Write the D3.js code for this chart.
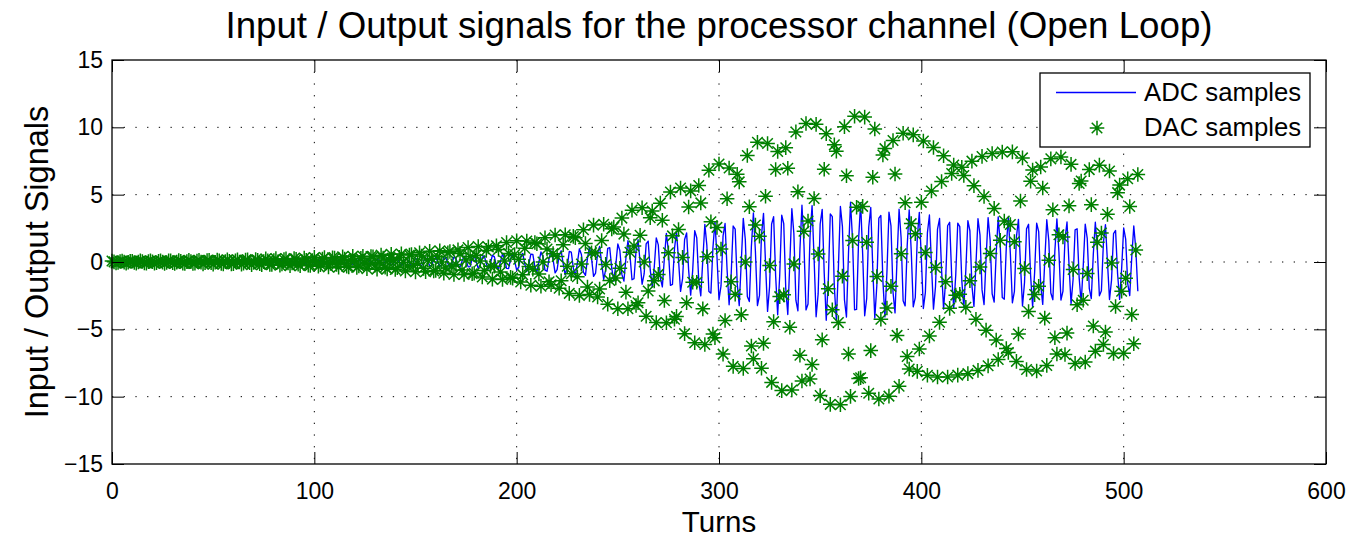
<!DOCTYPE html>
<html><head><meta charset="utf-8">
<script src="https://cdn.jsdelivr.net/npm/d3@7"></script>
<style>
html,body{margin:0;padding:0;background:#fff;overflow:hidden;}
svg{display:block;font-family:"Liberation Sans",Arial,Helvetica,sans-serif;}
</style></head><body>
<svg id="chart" width="1358" height="538"></svg>
<script>
const titleText = "Input / Output signals for the processor channel (Open Loop)";
const xLabelText = "Turns";
const yLabelText = "Input / Output Signals";
const seriesNames = ["ADC samples", "DAC samples"];
const xTicks = [0, 100, 200, 300, 400, 500, 600];
const yTicks = [-15, -10, -5, 0, 5, 10, 15];
const yTickLabels = ["\u221215", "\u221210", "\u22125", "0", "5", "10", "15"];

const adcSamples = [
-0.03,-0.02,0.02,0.03,0.00,-0.03,-0.01,0.02,0.02,-0.02,
-0.03,0.00,0.03,0.02,-0.03,-0.03,0.01,0.04,0.01,-0.04,
-0.02,0.02,0.04,0.00,-0.04,-0.02,0.03,0.03,-0.02,-0.05,
0.00,0.04,0.02,-0.03,-0.05,0.01,0.05,0.01,-0.05,-0.04,
0.03,0.05,0.00,-0.06,-0.02,0.05,0.05,-0.02,-0.07,-0.01,
0.06,0.04,-0.04,-0.06,0.01,0.07,0.02,-0.06,-0.05,0.04,
0.07,0.00,-0.07,-0.04,0.06,0.07,-0.02,-0.08,-0.02,0.08,
0.05,-0.05,-0.08,0.01,0.09,0.04,-0.08,-0.07,0.05,0.10,
0.01,-0.10,-0.06,0.07,0.10,-0.03,-0.11,-0.03,0.11,0.08,
-0.07,-0.11,0.01,0.12,0.05,-0.10,-0.10,0.05,0.14,0.02,
-0.13,-0.08,0.09,0.14,-0.03,-0.15,-0.05,0.13,0.12,-0.08,
-0.16,0.00,0.16,0.09,-0.13,-0.15,0.05,0.18,0.04,-0.17,
-0.12,0.11,0.18,-0.03,-0.21,-0.08,0.17,0.16,-0.09,-0.22,
-0.01,0.21,0.12,-0.16,-0.21,0.06,0.24,0.06,-0.23,-0.18,
0.14,0.25,-0.02,-0.27,-0.12,0.21,0.23,-0.10,-0.30,-0.04,
0.28,0.18,-0.19,-0.30,0.06,0.33,0.10,-0.27,-0.26,0.17,
0.34,0.00,-0.34,-0.18,0.28,0.32,-0.12,-0.38,-0.08,0.37,
0.26,-0.24,-0.38,0.06,0.44,0.16,-0.36,-0.34,0.21,0.47,
0.03,-0.46,-0.26,0.35,0.46,-0.13,-0.52,-0.13,0.50,0.38,
-0.30,-0.53,0.03,0.59,0.26,-0.47,-0.49,0.23,0.65,0.09,
-0.61,-0.39,0.42,0.64,-0.14,-0.71,-0.22,0.59,0.56,-0.36,
-0.74,0.00,0.74,0.39,-0.60,-0.69,0.25,0.82,0.17,-0.80,
-0.57,0.52,0.83,-0.13,-0.96,-0.36,0.78,0.74,-0.45,-1.02,
-0.06,0.98,0.56,-0.76,-0.99,0.28,1.12,0.28,-1.07,-0.82,
0.65,1.15,-0.07,-1.29,-0.57,1.01,1.06,-0.48,-1.42,-0.19,
1.34,0.85,-0.92,-1.42,0.30,1.58,0.49,-1.32,-1.24,0.82,
1.65,0.00,-1.65,-0.89,1.35,1.55,-0.57,-1.85,-0.38,1.79,
1.27,-1.17,-1.85,0.28,2.13,0.80,-1.74,-1.66,0.99,2.25,
0.14,-2.18,-1.24,1.67,2.16,-0.62,-2.46,-0.62,2.33,1.80,
-1.43,-2.51,0.16,2.79,1.23,-2.19,-2.31,1.05,2.98,0.39,
-2.80,-1.78,1.93,2.86,-0.60,-3.18,-0.98,2.67,2.44,-1.60,
-3.24,0.00,3.24,1.68,-2.56,-2.94,1.13,3.64,0.78,-3.23,
-2.48,2.00,3.61,-0.11,-3.67,-1.82,2.82,3.36,-1.05,-3.92,
-1.00,3.48,2.85,-1.98,-3.90,-0.06,3.96,2.14,-2.84,-3.62,
0.94,4.22,1.25,-3.56,-3.12,1.93,4.19,0.24,-4.07,-2.37,
2.82,3.91,-0.81,-4.33,-1.46,3.57,3.37,-1.85,-4.35,-0.43,
4.12,2.63,-2.80,-4.09,0.65,4.44,1.67,-3.55,-3.52,1.69,
4.41,0.60,-3.99,-2.70,2.58,4.05,-0.44,-4.17,-1.74,3.26,
3.45,-1.40,-4.08,-0.74,3.70,2.68,-2.23,-3.78,0.25,3.92,
1.80,-2.88,-3.26,1.17,3.87,0.86,-3.33,-2.65,1.82,3.69,
0.29,-3.45,-2.25,2.16,3.49,-0.17,-3.50,-1.84,2.45,3.23,
-0.60,-3.50,-1.41,2.69,2.95,-1.01,-3.44,-0.98,2.88,2.63,
-1.38,-3.40,-0.57,3.07,2.32,-1.74,-3.30,-0.15,3.21,1.99,
-2.07,-3.16,0.26,3.30,1.63,-2.37,-2.97,0.66,3.35,1.25,
-2.64,-2.76,1.14,3.35,0.62,-3.03,-2.19,1.86,3.17,-0.20,
-3.27,-1.51,2.46,2.80,-0.99,-3.32,-0.74,2.89,2.26,-1.71,
-3.15,0.05,3.14,1.59,-2.30,-2.80,0.83,3.20,0.76,-2.82,
-2.16,1.71,2.97,-0.23,-3.09,-1.30,2.39,2.47,-1.16,-3.05,
-0.35,2.81,1.75,-1.95,-2.71,0.60,2.95,0.88,-2.51,-2.13,
1.45,2.77,-0.03,-2.79,-1.35,2.11,2.34,-0.89,-2.78,-0.49,
2.53,1.69,-1.60,-2.49,0.36,2.67,0.96,-2.17
];

const dacSamples = [
0.07,0.01,-0.07,-0.04,0.04,0.07,-0.01,-0.08,-0.02,0.06,
0.06,-0.04,-0.08,0.00,0.08,0.04,-0.07,-0.08,0.03,0.09,
0.02,-0.09,-0.06,0.06,0.09,-0.01,-0.10,-0.04,0.08,0.08,
-0.05,-0.11,-0.01,0.10,0.06,-0.08,-0.11,0.03,0.12,0.03,
-0.11,-0.09,0.07,0.12,-0.01,-0.14,-0.06,0.11,0.12,-0.05,
-0.16,-0.02,0.15,0.09,-0.10,-0.15,0.03,0.17,0.05,-0.14,
-0.13,0.09,0.17,0.00,-0.17,-0.09,0.14,0.16,-0.06,-0.20,
-0.04,0.19,0.13,-0.12,-0.20,0.03,0.23,0.09,-0.19,-0.18,
0.11,0.25,0.02,-0.24,-0.14,0.18,0.24,-0.07,-0.27,-0.07,
0.26,0.20,-0.16,-0.28,0.02,0.30,0.13,-0.24,-0.25,0.11,
0.34,0.04,-0.32,-0.20,0.22,0.33,-0.07,-0.37,-0.11,0.31,
0.29,-0.19,-0.39,0.00,0.39,0.21,-0.31,-0.36,0.13,0.43,
0.09,-0.41,-0.29,0.27,0.43,-0.07,-0.50,-0.19,0.41,0.39,
-0.23,-0.53,-0.03,0.51,0.29,-0.39,-0.51,0.15,0.58,0.15,
-0.55,-0.43,0.34,0.60,-0.04,-0.67,-0.29,0.52,0.55,-0.25,
-0.73,-0.10,0.69,0.44,-0.47,-0.72,0.15,0.80,0.25,-0.67,
-0.63,0.41,0.83,0.00,-0.83,-0.45,0.68,0.78,-0.29,-0.93,
-0.19,0.90,0.64,-0.59,-0.93,0.14,1.07,0.40,-0.87,-0.83,
0.50,1.15,0.07,-1.11,-0.63,0.86,1.12,-0.32,-1.27,-0.32,
1.21,0.93,-0.74,-1.30,0.08,1.45,0.64,-1.14,-1.20,0.55,
1.58,0.21,-1.49,-0.94,1.02,1.56,-0.33,-1.73,-0.54,1.45,
1.36,-0.89,-1.80,0.00,1.80,0.96,-1.47,-1.69,0.62,2.01,
0.41,-1.95,-1.39,1.28,2.02,-0.31,-2.33,-0.87,1.90,1.81,
-1.09,-2.48,-0.15,2.40,1.37,-1.86,-2.41,0.69,2.74,0.69,
-2.60,-2.01,1.59,2.80,-0.18,-3.14,-1.38,2.46,2.59,-1.18,
-3.47,-0.46,3.26,2.07,-2.24,-3.47,0.73,3.85,1.19,-3.23,
-3.03,1.99,4.03,0.00,-4.03,-2.16,3.29,3.78,-1.40,-4.50,
-0.92,4.37,3.10,-2.86,-4.51,0.68,5.20,1.94,-4.25,-4.04,
2.41,5.49,0.34,-5.32,-3.02,4.08,5.28,-1.50,-6.00,-1.50,
5.68,4.39,-3.48,-6.13,0.39,6.81,2.99,-5.35,-5.63,2.57,
7.28,0.96,-6.84,-4.34,4.70,6.98,-1.47,-7.75,-2.40,6.51,
5.95,-3.91,-7.91,0.00,7.91,4.10,-6.24,-7.18,2.75,8.89,
1.91,-7.89,-6.04,4.88,8.80,-0.26,-8.94,-4.43,6.87,8.20,
-2.57,-9.55,-2.44,8.49,6.96,-4.84,-9.50,-0.14,9.66,5.21,
-6.93,-8.84,2.29,10.29,3.05,-8.69,-7.61,4.71,10.22,0.59,
-9.92,-5.78,6.89,9.53,-1.98,-10.57,-3.55,8.70,8.23,-4.50,
-10.60,-1.05,10.05,6.41,-6.83,-9.98,1.59,10.82,4.07,-8.65,
-8.59,4.13,10.76,1.47,-9.74,-6.58,6.29,9.88,-1.08,-10.17,
-4.25,7.94,8.42,-3.42,-9.96,-1.81,9.02,6.53,-5.45,-9.23,
0.61,9.56,4.40,-7.02,-7.95,2.85,9.44,2.10,-8.12,-6.46,
4.43,8.99,0.71,-8.41,-5.49,5.27,8.50,-0.41,-8.54,-4.48,
5.98,7.89,-1.47,-8.54,-3.44,6.57,7.20,-2.46,-8.40,-2.40,
7.03,6.42,-3.36,-8.29,-1.39,7.49,5.67,-4.25,-8.05,-0.37,
7.84,4.86,-5.06,-7.71,0.64,8.06,3.98,-5.79,-7.24,1.62,
8.17,3.04,-6.43,-6.72,2.78,8.18,1.51,-7.38,-5.35,4.53,
7.73,-0.48,-7.98,-3.68,6.00,6.83,-2.42,-8.09,-1.80,7.05,
5.50,-4.17,-7.68,0.13,7.66,3.88,-5.62,-6.83,2.02,7.80,
1.86,-6.87,-5.28,4.17,7.25,-0.56,-7.53,-3.18,5.83,6.02,
-2.84,-7.43,-0.86,6.86,4.26,-4.75,-6.62,1.46,7.19,2.15,
-6.12,-5.20,3.54,6.76,-0.07,-6.80,-3.30,5.15,5.71,-2.17,
-6.78,-1.20,6.18,4.12,-3.90,-6.07,0.89,6.50
];

// turn index of each sample (one sample per turn, starting at turn 0)
const turns = adcSamples.map((_, i) => i);

const W = 1358, H = 538;
const plot = { left: 112, right: 1326, top: 60, bottom: 464 };
const FONT = '"Liberation Sans", Arial, Helvetica, sans-serif';

const svg = d3.select("#chart");
const x = d3.scaleLinear().domain([xTicks[0], xTicks[xTicks.length - 1]]).range([plot.left, plot.right]);
const y = d3.scaleLinear().domain([yTicks[0], yTicks[yTicks.length - 1]]).range([plot.bottom, plot.top]);

svg.append("rect").attr("width", W).attr("height", H).attr("fill", "#fff");

// dotted grid
const grid = svg.append("g").attr("stroke", "#000").attr("stroke-width", 1).attr("stroke-dasharray", "1.3,10.4");
grid.selectAll("line.gx").data(xTicks.slice(1, -1)).join("line").attr("class", "gx")
  .attr("x1", d => x(d)).attr("x2", d => x(d)).attr("y1", plot.top).attr("y2", plot.bottom);
grid.selectAll("line.gy").data(yTicks.slice(1, -1)).join("line").attr("class", "gy")
  .attr("y1", d => y(d)).attr("y2", d => y(d)).attr("x1", plot.left).attr("x2", plot.right);

// ADC line
const line = d3.line().x((d, i) => x(turns[i])).y(d => y(d));
svg.append("path").datum(adcSamples).attr("d", line)
  .attr("fill", "none").attr("stroke", "#0000ff").attr("stroke-width", 1.35).attr("stroke-linejoin", "round");

// DAC asterisk markers
const starR = 7.3, starD = starR * 0.72;
const starPath = `M${-starR},0H${starR}M0,${-starR}V${starR}M${-starD},${-starD}L${starD},${starD}M${-starD},${starD}L${starD},${-starD}`;
svg.append("g").selectAll("path").data(dacSamples).join("path")
  .attr("transform", (d, i) => `translate(${x(turns[i])},${y(d)})`)
  .attr("d", starPath).attr("fill", "none").attr("stroke", "#008000").attr("stroke-width", 1.5);

// axes (ticks pointing inward, mirrored on top/right)
function styleAxis(g) {
  g.select(".domain").remove();
  g.attr("font-family", FONT).attr("font-size", 23);
  g.selectAll(".tick line").attr("stroke", "#000").attr("stroke-width", 1);
  g.selectAll(".tick text").attr("fill", "#000");
}
svg.append("g").attr("transform", `translate(0,${plot.bottom})`)
  .call(d3.axisBottom(x).tickValues(xTicks).tickSizeInner(-12).tickSizeOuter(0).tickPadding(19).tickFormat(d3.format("d")))
  .call(styleAxis);
svg.append("g").attr("transform", `translate(0,${plot.top})`)
  .call(d3.axisTop(x).tickValues(xTicks).tickSizeInner(-12).tickSizeOuter(0).tickFormat(() => ""))
  .call(styleAxis);
svg.append("g").attr("transform", `translate(${plot.left},0)`)
  .call(d3.axisLeft(y).tickValues(yTicks).tickSizeInner(-12).tickSizeOuter(0).tickPadding(9).tickFormat((d, i) => yTickLabels[i]))
  .call(styleAxis);
svg.append("g").attr("transform", `translate(${plot.right},0)`)
  .call(d3.axisRight(y).tickValues(yTicks).tickSizeInner(-12).tickSizeOuter(0).tickFormat(() => ""))
  .call(styleAxis);

// box
svg.append("rect").attr("x", plot.left).attr("y", plot.top)
  .attr("width", plot.right - plot.left).attr("height", plot.bottom - plot.top)
  .attr("fill", "none").attr("stroke", "#000").attr("stroke-width", 1.3);

// title and labels
svg.append("text").attr("x", (plot.left + plot.right) / 2).attr("y", 38)
  .attr("text-anchor", "middle").attr("font-family", FONT).attr("font-size", 36.7).attr("fill", "#000").text(titleText);
svg.append("text").attr("x", (plot.left + plot.right) / 2).attr("y", 531.7)
  .attr("text-anchor", "middle").attr("font-family", FONT).attr("font-size", 29.5).attr("fill", "#000").text(xLabelText);
svg.append("text").attr("transform", `translate(48,${(plot.top + plot.bottom) / 2}) rotate(-90)`)
  .attr("text-anchor", "middle").attr("font-family", FONT).attr("font-size", 32.5).attr("fill", "#000").text(yLabelText);

// legend
const lg = svg.append("g");
lg.append("rect").attr("x", 1040).attr("y", 73).attr("width", 270).attr("height", 74)
  .attr("fill", "#fff").attr("stroke", "#000").attr("stroke-width", 1.3);
lg.append("line").attr("x1", 1056).attr("x2", 1136).attr("y1", 92.5).attr("y2", 92.5)
  .attr("stroke", "#0000ff").attr("stroke-width", 1.35);
lg.append("path").attr("transform", "translate(1097,128)").attr("d", starPath)
  .attr("fill", "none").attr("stroke", "#008000").attr("stroke-width", 1.5);
lg.selectAll("text").data(seriesNames).join("text")
  .attr("x", 1144).attr("y", (d, i) => 101 + i * 35)
  .attr("font-family", FONT).attr("font-size", 25.7).attr("fill", "#000").text(d => d);
</script>
</body></html>
